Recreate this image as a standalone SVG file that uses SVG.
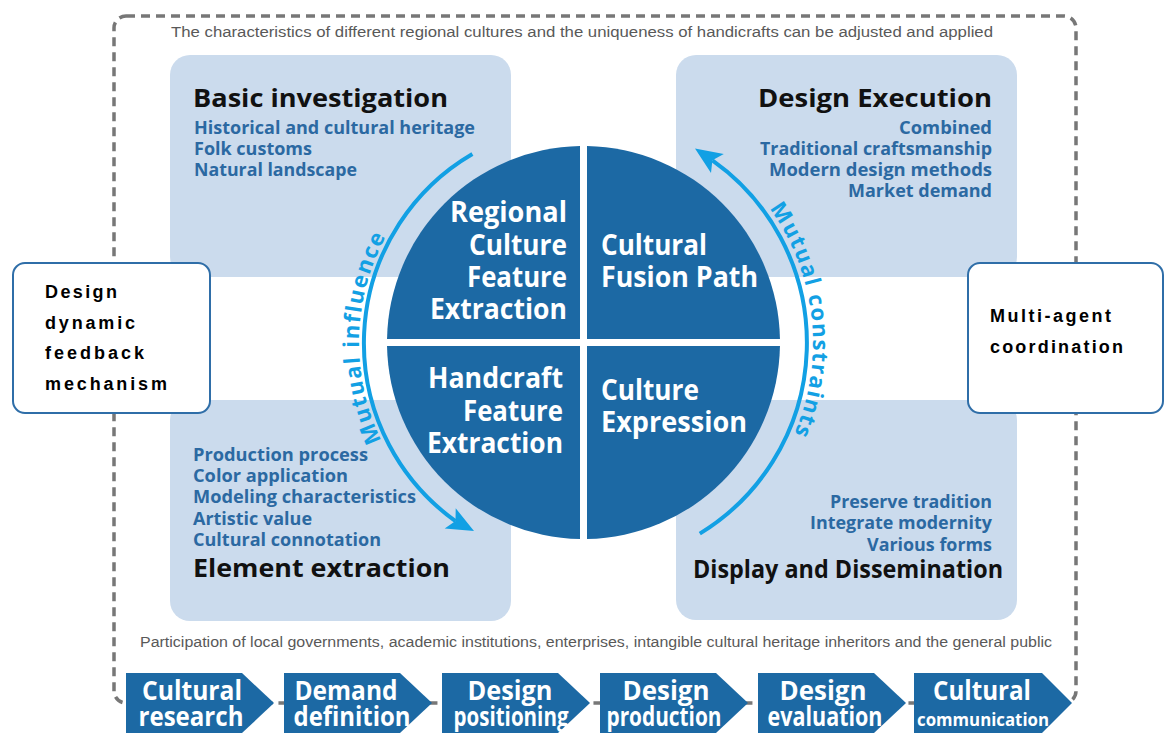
<svg xmlns="http://www.w3.org/2000/svg" width="1165" height="733" viewBox="0 0 1165 733">
<style>
.panel{fill:#cbdbed}
.q{fill:#1c69a4}
.title{font-family:'Open Sans','Noto Sans',sans-serif;font-weight:700;font-size:25px;fill:#111}
.sub{font-family:'Open Sans','Noto Sans',sans-serif;font-weight:700;font-size:18px;fill:#2b69a2}
.qt{font-family:'Open Sans','Noto Sans',sans-serif;font-weight:700;font-size:28px;fill:#fff}
.box{fill:#fff;stroke:#2f6ea8;stroke-width:2}
.bt{font-family:'Liberation Sans',Arial,sans-serif;font-weight:700;font-size:18px;fill:#000}
.chev{fill:#1c69a4}
.ct{font-family:'Open Sans','Noto Sans',sans-serif;font-weight:700;font-size:26px;fill:#fff;text-anchor:middle}
.note{font-family:'Liberation Sans',Arial,sans-serif;font-size:15.5px;fill:#595959}
.arc{fill:none;stroke:#12a0e4;stroke-width:4}
.ah{fill:#12a0e4}
.arcTxt{font-family:'Open Sans','Noto Sans',sans-serif;font-weight:700;font-size:22px;fill:#12a0e4;letter-spacing:1.6px}
.end{text-anchor:end}
</style>
<defs>
<path id="tpL" d="M424.6,501.4 A224 224 0 0 1 424.6,184.6"/>
<path id="tpR" d="M745.6,180.4 A230 230 0 0 1 745.6,505.6"/>
</defs>
<rect width="1165" height="733" fill="#fff"/>
<g id="frame">
<rect x="114" y="16" width="962" height="687" rx="12" fill="none" stroke="#777" stroke-width="3.5" stroke-dasharray="9 6"/>
<text class="note" x="171" y="36.5" textLength="822" lengthAdjust="spacingAndGlyphs">The characteristics of different regional cultures and the uniqueness of handicrafts can be adjusted and applied</text>
<text class="note" x="140" y="647" textLength="912" lengthAdjust="spacingAndGlyphs">Participation of local governments, academic institutions, enterprises, intangible cultural heritage inheritors and the general public</text>
</g>
<g id="basic-investigation">
<rect class="panel" x="170" y="55" width="341" height="222" rx="20"/>
<text class="title" x="193" y="107" textLength="255" lengthAdjust="spacingAndGlyphs">Basic investigation</text>
<text class="sub" x="194" y="134" textLength="281" lengthAdjust="spacingAndGlyphs">Historical and cultural heritage</text>
<text class="sub" x="194" y="155" textLength="118" lengthAdjust="spacingAndGlyphs">Folk customs</text>
<text class="sub" x="194" y="176" textLength="163" lengthAdjust="spacingAndGlyphs">Natural landscape</text>
</g>
<g id="design-execution">
<rect class="panel" x="676" y="55" width="341" height="222" rx="20"/>
<text class="title end" x="992" y="107" textLength="234" lengthAdjust="spacingAndGlyphs">Design Execution</text>
<text class="sub end" x="992" y="134" textLength="93" lengthAdjust="spacingAndGlyphs">Combined</text>
<text class="sub end" x="992" y="155" textLength="232" lengthAdjust="spacingAndGlyphs">Traditional craftsmanship</text>
<text class="sub end" x="992" y="176" textLength="223" lengthAdjust="spacingAndGlyphs">Modern design methods</text>
<text class="sub end" x="992" y="197" textLength="144" lengthAdjust="spacingAndGlyphs">Market demand</text>
</g>
<g id="element-extraction">
<rect class="panel" x="170" y="400" width="341" height="221" rx="20"/>
<text class="sub" x="193" y="461" textLength="175" lengthAdjust="spacingAndGlyphs">Production process</text>
<text class="sub" x="193" y="482" textLength="155" lengthAdjust="spacingAndGlyphs">Color application</text>
<text class="sub" x="193" y="503" textLength="223" lengthAdjust="spacingAndGlyphs">Modeling characteristics</text>
<text class="sub" x="193" y="525" textLength="119" lengthAdjust="spacingAndGlyphs">Artistic value</text>
<text class="sub" x="193" y="546" textLength="188" lengthAdjust="spacingAndGlyphs">Cultural connotation</text>
<text class="title" x="193" y="577" textLength="257" lengthAdjust="spacingAndGlyphs">Element extraction</text>
</g>
<g id="display-dissemination">
<rect class="panel" x="676" y="400" width="341" height="220" rx="20"/>
<text class="sub end" x="992" y="508" textLength="162" lengthAdjust="spacingAndGlyphs">Preserve tradition</text>
<text class="sub end" x="992" y="529" textLength="182" lengthAdjust="spacingAndGlyphs">Integrate modernity</text>
<text class="sub end" x="992" y="551" textLength="125" lengthAdjust="spacingAndGlyphs">Various forms</text>
<text class="title end" x="1003" y="578" textLength="310" lengthAdjust="spacingAndGlyphs">Display and Dissemination</text>
</g>
<g id="regional-culture-feature-extraction">
<path class="q" d="M580,339 V146.03 A196.5 196.5 0 0 0 387.03,339 Z"/>
<text class="qt end" x="567" y="222" textLength="117" lengthAdjust="spacingAndGlyphs">Regional</text>
<text class="qt end" x="567" y="254.5" textLength="98" lengthAdjust="spacingAndGlyphs">Culture</text>
<text class="qt end" x="567" y="287" textLength="100" lengthAdjust="spacingAndGlyphs">Feature</text>
<text class="qt end" x="567" y="319" textLength="137" lengthAdjust="spacingAndGlyphs">Extraction</text>
</g>
<g id="cultural-fusion-path">
<path class="q" d="M587,339 H779.97 A196.5 196.5 0 0 0 587,146.03 Z"/>
<text class="qt" x="601" y="254.5" textLength="106" lengthAdjust="spacingAndGlyphs">Cultural</text>
<text class="qt" x="601" y="287" textLength="157" lengthAdjust="spacingAndGlyphs">Fusion Path</text>
</g>
<g id="handcraft-feature-extraction">
<path class="q" d="M580,346 H387.03 A196.5 196.5 0 0 0 580,538.97 Z"/>
<text class="qt end" x="563" y="388" textLength="135" lengthAdjust="spacingAndGlyphs">Handcraft</text>
<text class="qt end" x="563" y="421" textLength="100" lengthAdjust="spacingAndGlyphs">Feature</text>
<text class="qt end" x="563" y="453" textLength="136" lengthAdjust="spacingAndGlyphs">Extraction</text>
</g>
<g id="culture-expression">
<path class="q" d="M587,346 V538.97 A196.5 196.5 0 0 0 779.97,346 Z"/>
<text class="qt" x="601" y="399.5" textLength="98" lengthAdjust="spacingAndGlyphs">Culture</text>
<text class="qt" x="601" y="432" textLength="146" lengthAdjust="spacingAndGlyphs">Expression</text>
</g>
<g id="design-dynamic-feedback">
<rect class="box" x="13" y="263" width="197" height="150" rx="12"/>
<text class="bt" x="45" y="298" textLength="72" lengthAdjust="spacing">Design</text>
<text class="bt" x="45" y="328.5" textLength="90" lengthAdjust="spacing">dynamic</text>
<text class="bt" x="45" y="359" textLength="99" lengthAdjust="spacing">feedback</text>
<text class="bt" x="45" y="390" textLength="122" lengthAdjust="spacing">mechanism</text>
</g>
<g id="multi-agent-coordination">
<rect class="box" x="968" y="263" width="195" height="150" rx="12"/>
<text class="bt" x="990" y="322" textLength="121" lengthAdjust="spacing">Multi-agent</text>
<text class="bt" x="990" y="352.5" textLength="133" lengthAdjust="spacing">coordination</text>
</g>
<g id="connectors">
<path class="arc" d="M472.4,153.9 A219 219 0 0 0 455.5,521.1"/>
<polygon class="ah" points="474,531.1 455.7,508.2 455.5,521.1 444.7,528.4"/>
<path class="arc" d="M699.8,533.6 A223.5 223.5 0 0 0 712.4,160.3"/>
<polygon class="ah" points="695,148.5 723.8,154.1 712.4,160.3 711,173.1"/>
<text class="arcTxt"><textPath href="#tpL" startOffset="51.6%" text-anchor="middle">Mutual influence</textPath></text>
<text class="arcTxt"><textPath href="#tpR" startOffset="43.2%" text-anchor="middle">Mutual constraints</textPath></text>
</g>
<g id="cultural-research">
<polygon class="chev" points="126,673 242,673 274,703 242,733 126,733"/>
<text class="ct" x="192" y="700" textLength="100" lengthAdjust="spacingAndGlyphs">Cultural</text>
<text class="ct" x="191" y="726" textLength="105" lengthAdjust="spacingAndGlyphs">research</text>
</g>
<g id="demand-definition">
<polygon class="chev" points="284,673 400,673 432,703 400,733 284,733"/>
<text class="ct" x="346" y="700" textLength="103" lengthAdjust="spacingAndGlyphs">Demand</text>
<text class="ct" x="352" y="726" textLength="117" lengthAdjust="spacingAndGlyphs">definition</text>
</g>
<g id="design-positioning">
<polygon class="chev" points="442,673 558,673 590,703 558,733 442,733"/>
<text class="ct" x="510" y="700" textLength="85" lengthAdjust="spacingAndGlyphs">Design</text>
<text class="ct" x="511" y="726" textLength="115" lengthAdjust="spacingAndGlyphs">positioning</text>
</g>
<g id="design-production">
<polygon class="chev" points="600,673 716,673 748,703 716,733 600,733"/>
<text class="ct" x="666" y="700" textLength="87" lengthAdjust="spacingAndGlyphs">Design</text>
<text class="ct" x="664" y="726" textLength="115" lengthAdjust="spacingAndGlyphs">production</text>
</g>
<g id="design-evaluation">
<polygon class="chev" points="758,673 874,673 906,703 874,733 758,733"/>
<text class="ct" x="823" y="700" textLength="87" lengthAdjust="spacingAndGlyphs">Design</text>
<text class="ct" x="825" y="726" textLength="115" lengthAdjust="spacingAndGlyphs">evaluation</text>
</g>
<g id="cultural-communication">
<polygon class="chev" points="914,673 1042,673 1072,703 1042,733 914,733"/>
<text class="ct" x="982" y="700" textLength="98" lengthAdjust="spacingAndGlyphs">Cultural</text>
<text class="ct" x="983" y="726" style="font-size:18px" textLength="132" lengthAdjust="spacingAndGlyphs">communication</text>
</g>
</svg>
